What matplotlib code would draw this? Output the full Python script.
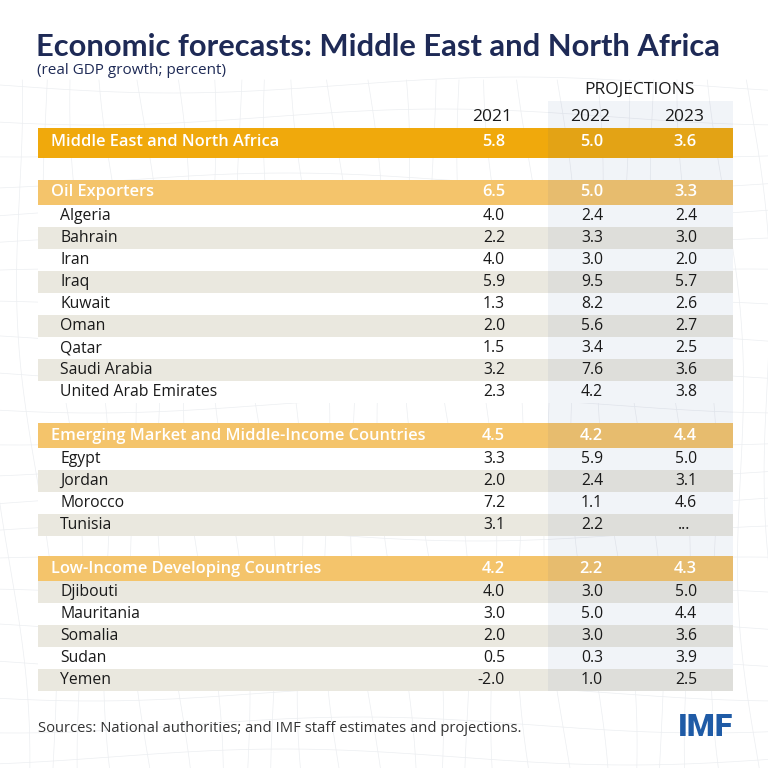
import matplotlib.pyplot as plt
from matplotlib.patches import Rectangle
import numpy as np

# Table data (real GDP growth, percent)
years = ['2021', '2022', '2023']

mena_label = 'Middle East and North Africa'
mena_values = [5.8, 5.0, 3.6]

groups = ['Oil Exporters',
          'Emerging Market and Middle-Income Countries',
          'Low-Income Developing Countries']
group_values = [[6.5, 5.0, 3.3],
                [4.5, 4.2, 4.4],
                [4.2, 2.2, 4.3]]

oil_countries = ['Algeria', 'Bahrain', 'Iran', 'Iraq', 'Kuwait', 'Oman',
                 'Qatar', 'Saudi Arabia', 'United Arab Emirates']
oil_2021 = [4.0, 2.2, 4.0, 5.9, 1.3, 2.0, 1.5, 3.2, 2.3]
oil_2022 = [2.4, 3.3, 3.0, 9.5, 8.2, 5.6, 3.4, 7.6, 4.2]
oil_2023 = [2.4, 3.0, 2.0, 5.7, 2.6, 2.7, 2.5, 3.6, 3.8]

em_countries = ['Egypt', 'Jordan', 'Morocco', 'Tunisia']
em_2021 = [3.3, 2.0, 7.2, 3.1]
em_2022 = [5.9, 2.4, 1.1, 2.2]
em_2023 = [5.0, 3.1, 4.6, None]

lidc_countries = ['Djibouti', 'Mauritania', 'Somalia', 'Sudan', 'Yemen']
lidc_2021 = [4.0, 3.0, 2.0, 0.5, -2.0]
lidc_2022 = [3.0, 5.0, 3.0, 0.3, 1.0]
lidc_2023 = [5.0, 4.4, 3.6, 3.9, 2.5]

group_rows = [
    (oil_countries, oil_2021, oil_2022, oil_2023),
    (em_countries, em_2021, em_2022, em_2023),
    (lidc_countries, lidc_2021, lidc_2022, lidc_2023),
]

# Style
navy = '#1e2a56'
mena_color = '#f0a90c'
group_color = '#f4c46b'
stripe_color = '#eae8df'
band_color = '#3a5a9a'
text_color = '#1a1a1a'

plt.rcParams['font.family'] = ['Open Sans', 'DejaVu Sans']

fig = plt.figure(figsize=(7.68, 7.68), dpi=100)
ax = fig.add_axes([0, 0, 1, 1])
ax.set_xlim(0, 768)
ax.set_ylim(768, 0)
ax.axis('off')

# faint wireframe background
mesh_x = np.linspace(0, 768, 200)
for k in range(22):
    base = 85 + k * 32
    yy = base + 8 * np.sin(mesh_x / 110.0 + k * 0.7)
    ax.plot(mesh_x, yy, color='#eceef1', lw=0.5, zorder=0)
mesh_y = np.linspace(80, 768, 200)
for k in range(26):
    base = k * 32
    xx = base + 10 * np.sin(mesh_y / 90.0 + k) + (mesh_y - 400) * 0.06
    ax.plot(xx, mesh_y, color='#eceef1', lw=0.5, zorder=0)

left, right = 38, 733
band_left = 548
label_x_group = 51
label_x_country = 60
col_right = [505, 603, 697]
col_center = [492, 590, 684]

mena_h, group_h, row_h, gap = 30, 24.5, 22.1, 20

# Title and subtitle
ax.text(left - 2, 47, 'Economic forecasts: Middle East and North Africa',
        fontsize=22.2, fontweight='bold', color=navy, va='center', ha='left',
        family=['Lato', 'DejaVu Sans'])
ax.text(left - 1, 71, '(real GDP growth; percent)', fontsize=11,
        color=navy, va='center', ha='left')

# Column headers
ax.text(639, 90, 'PROJECTIONS', fontsize=12.5,
        color=text_color, ha='center', va='center')
for i, yr in enumerate(years):
    ax.text(col_center[i], 117, yr, fontsize=12.5, color=text_color,
            ha='center', va='center')


def fmt(v):
    return '...' if v is None else '{:.1f}'.format(v)


def draw_row(top, h, label, values, fill, tcolor, lx, size, weight='normal'):
    if fill is not None:
        ax.add_patch(Rectangle((left, top), right - left, h, facecolor=fill,
                               edgecolor='none', zorder=1))
    yc = top + h / 2
    ax.text(lx, yc, label, fontsize=size, color=tcolor, ha='left',
            va='center', fontweight=weight, zorder=4)
    for i, v in enumerate(values):
        if v is None:
            ax.text(col_center[i], yc, fmt(v), fontsize=size, color=tcolor,
                    ha='center', va='center', zorder=4)
        else:
            ax.text(col_right[i], yc, fmt(v), fontsize=size, color=tcolor,
                    ha='right', va='center', fontweight=weight, zorder=4)


y = 127.5
draw_row(y, mena_h, mena_label, mena_values, mena_color, 'white',
         label_x_group, 11.8, 'semibold')
y += mena_h + 22.5

for g, (gname, gvals) in enumerate(zip(groups, group_values)):
    draw_row(y, group_h, gname, gvals, group_color, 'white', label_x_group,
             11.8, 'semibold')
    y += group_h
    names, v21, v22, v23 = group_rows[g]
    stripe = g == 2
    for j, name in enumerate(names):
        fill = stripe_color if stripe else 'white'
        draw_row(y, row_h, name, [v21[j], v22[j], v23[j]], fill, text_color,
                 label_x_country, 11.3)
        stripe = not stripe
        y += row_h
    if g < 2:
        y += gap

table_bottom = y

# projections band
ax.add_patch(Rectangle((band_left, 101), right - band_left, table_bottom - 101,
                       facecolor=band_color, alpha=0.065, edgecolor='none', zorder=2))

# Footer
ax.text(left, 729, 'Sources: National authorities; and IMF staff estimates and projections.',
        fontsize=10.6, color='#333333', ha='left', va='center')
ax.text(right, 727, 'IMF', fontsize=23, fontweight='heavy', color='#1f5ba6',
        ha='right', va='center', family=['Roboto', 'DejaVu Sans'])

fig.savefig('out.png', dpi=100, facecolor='white')
